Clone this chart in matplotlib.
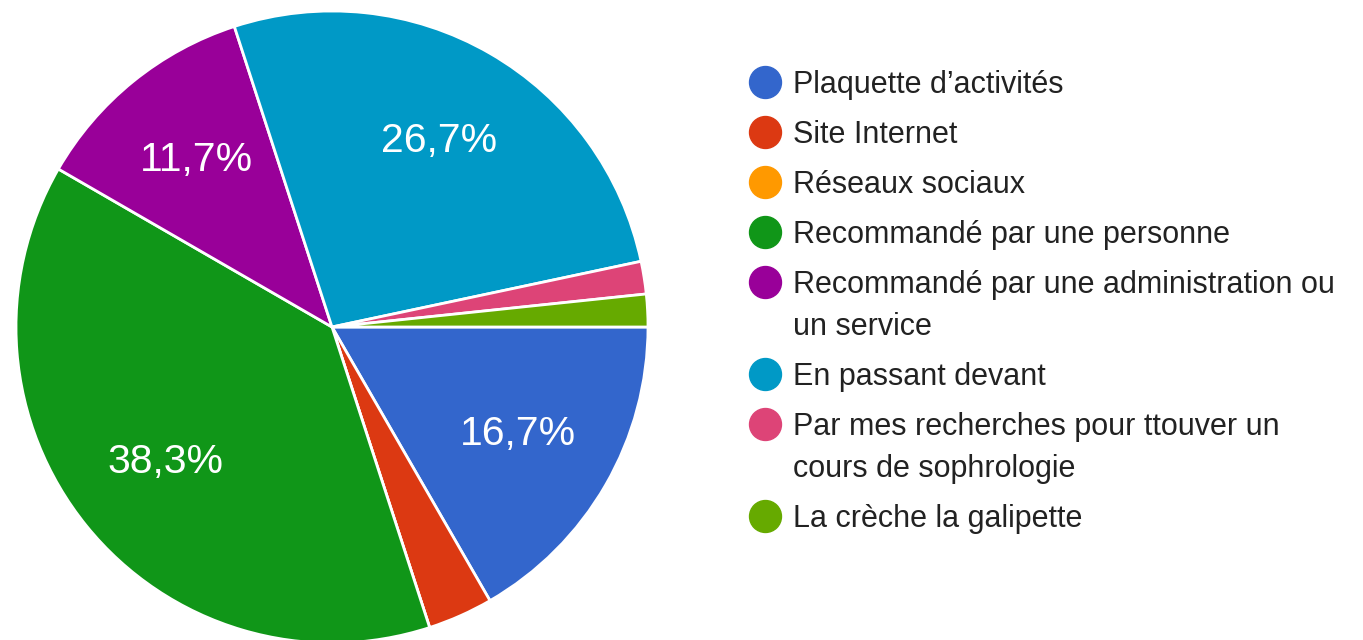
import matplotlib.pyplot as plt

plt.rcParams['font.family'] = ['Liberation Sans', 'DejaVu Sans']

# Réponses (60 au total)
labels = [
    "Plaquette d\u2019activités",
    "Site Internet",
    "Réseaux sociaux",
    "Recommandé par une personne",
    "Recommandé par une administration ou\nun service",
    "En passant devant",
    "Par mes recherches pour ttouver un\ncours de sophrologie",
    "La crèche la galipette",
]
counts = [10, 2, 0, 23, 7, 16, 1, 1]
colors = ["#3366cc", "#dc3912", "#ff9900", "#109618",
          "#990099", "#0099c6", "#dd4477", "#66aa00"]

W, H = 1363, 640
fig = plt.figure(figsize=(W / 100, H / 100), dpi=100)

# pie: center (332, 327), radius 316 px
cx, cy, r = 332, 327, 316
ax = fig.add_axes([(cx - r) / W, (H - cy - r) / H, 2 * r / W, 2 * r / H])


def fmt(p):
    return f"{p:.1f}%".replace(".", ",") if p >= 5 else ""


wedges, texts, autotexts = ax.pie(
    counts, colors=colors, startangle=0, counterclock=False,
    autopct=fmt, pctdistance=0.68,
    wedgeprops=dict(edgecolor="white", linewidth=2),
    textprops=dict(color="white", fontsize=29.5),
)
ax.set_xlim(-1, 1)
ax.set_ylim(-1, 1)
ax.set_aspect("equal")
ax.axis("off")

# legend on the right
y = 82
for lab, col in zip(labels, colors):
    fig.add_artist(plt.Line2D([765 / W], [1 - y / H], marker="o", markersize=23,
                              color=col, linestyle="none",
                              transform=fig.transFigure))
    for i, line in enumerate(lab.split("\n")):
        fig.text(793 / W, 1 - (y + 11 + i * 42) / H, line, fontsize=22,
                 color="#222222", va="baseline", ha="left")
    y += 50 + 42 * lab.count("\n")

fig.savefig("out.png", dpi=100, facecolor="white")
